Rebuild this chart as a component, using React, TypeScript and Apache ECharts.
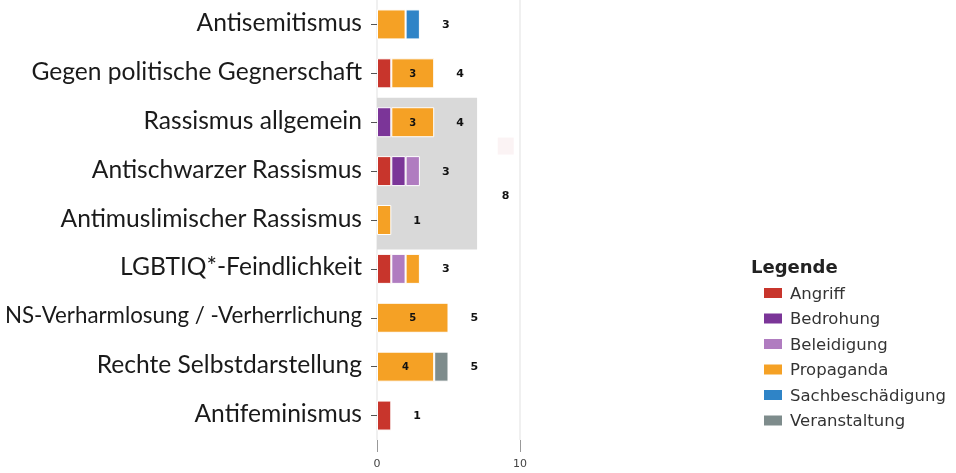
import React, { useEffect, useRef } from "react";
import * as echarts from "echarts";

const categories = [
  "Antisemitismus",
  "Gegen politische Gegnerschaft",
  "Rassismus allgemein",
  "Antischwarzer Rassismus",
  "Antimuslimischer Rassismus",
  "LGBTIQ*-Feindlichkeit",
  "NS-Verharmlosung / -Verherrlichung",
  "Rechte Selbstdarstellung",
  "Antifeminismus",
];
const seriesNames = ["Angriff", "Bedrohung", "Beleidigung", "Propaganda", "Sachbeschädigung", "Veranstaltung"];
const seriesColors = ["#c8352c", "#7b3598", "#b07cc0", "#f5a125", "#2f84c7", "#7e8c8c"];
const angriff = [0, 1, 0, 1, 0, 1, 0, 0, 1];
const bedrohung = [0, 0, 1, 1, 0, 0, 0, 0, 0];
const beleidigung = [0, 0, 0, 1, 0, 1, 0, 0, 0];
const propaganda = [2, 3, 3, 0, 1, 1, 5, 4, 0];
const sachbeschaedigung = [1, 0, 0, 0, 0, 0, 0, 0, 0];
const veranstaltung = [0, 0, 0, 0, 0, 0, 0, 1, 0];
const seriesValues = [angriff, bedrohung, beleidigung, propaganda, sachbeschaedigung, veranstaltung];
// group "Rassismus": categories 2..4, shaded up to 7
const groupStart = 2;
const groupEnd = 4;
const groupShadeMax = 7;
const groupLabelX = 9;
const xTicks = [0, 10];
const longLabel = "NS-Verharmlosung / -Verherrlichung";

export default function App() {
  const ref = useRef<HTMLDivElement>(null);
  useEffect(() => {
    if (!ref.current) return;
    const chart = echarts.init(ref.current, null, { renderer: "svg" });
    const totals = categories.map((_, i) => seriesValues.reduce((s, arr) => s + arr[i], 0));
    let groupTotal = 0;
    for (let i = groupStart; i <= groupEnd; i++) groupTotal += totals[i];

    const barSeries = seriesNames.map((name, k) => ({
      name,
      type: "bar",
      stack: "total",
      barWidth: 30,
      z: 3,
      itemStyle: { color: seriesColors[k], borderColor: "#ffffff", borderWidth: 1 },
      label: {
        show: true,
        position: "inside",
        fontSize: 10,
        fontWeight: "bold",
        fontFamily: "DejaVu Sans",
        color: "#111",
        formatter: (p: any) => (p.value >= 3 ? String(p.value) : ""),
      },
      data: seriesValues[k].map((v) => (v === 0 ? "-" : v)),
    }));

    chart.setOption({
      animation: false,
      grid: { left: 377, width: 143, top: -2, bottom: 33, containLabel: false },
      title: {
        text: "Legende",
        left: 746,
        top: 252,
        textStyle: { fontFamily: "DejaVu Sans", fontWeight: "bold", fontSize: 18, color: "#222" },
      },
      legend: {
        data: seriesNames,
        orient: "vertical",
        left: 757,
        top: 279.5,
        icon: "rect",
        itemWidth: 20,
        itemHeight: 12,
        itemGap: 8.5,
        textStyle: { fontFamily: "DejaVu Sans", fontSize: 16.5, color: "#333", lineHeight: 17, padding: [0, 0, 0, 2] },
      },
      xAxis: {
        type: "value",
        min: xTicks[0],
        max: xTicks[1],
        interval: 10,
        axisLine: { show: false },
        axisTick: { show: true, length: 12, lineStyle: { color: "#999" } },
        axisLabel: { fontSize: 11, color: "#444", margin: 18, fontFamily: "DejaVu Sans" },
        splitLine: { show: true, lineStyle: { color: "#ebebeb", width: 1.5 } },
      },
      yAxis: {
        type: "category",
        data: categories,
        inverse: true,
        axisLine: { show: false },
        axisTick: { show: true, length: 6, alignWithLabel: true, lineStyle: { color: "#555" } },
        axisLabel: {
          fontSize: 24.6,
          fontFamily: "Lato",
          color: "#1a1a1a",
          margin: 15,
          padding: [0, 0, 6, 0],
          formatter: (v: string) => (v === longLabel ? "{s|" + v + "}" : v),
          rich: { s: { fontSize: 22.3, fontFamily: "Lato", color: "#1a1a1a" } },
        },
        splitLine: { show: false },
      },
      series: [
        {
          type: "custom",
          z: 1,
          silent: true,
          renderItem: (params: any, api: any) => {
            const p0 = api.coord([0, groupStart]);
            const p1 = api.coord([groupShadeMax, groupEnd]);
            const band = api.size([0, 1])[1];
            const yTop = p0[1] - band / 2;
            const yBot = p1[1] + band / 2 + 5;
            const pa = api.coord([groupLabelX, groupEnd - 1]);
            const pb = api.coord([groupLabelX, groupEnd]);
            const ly = (pa[1] + pb[1]) / 2;
            return {
              type: "group",
              children: [
                {
                  type: "rect",
                  shape: { x: p0[0], y: yTop, width: p1[0] - p0[0], height: yBot - yTop },
                  style: { fill: "#d9d9d9" },
                },
                {
                  type: "rect",
                  shape: { x: pa[0] - 8, y: ly - 58, width: 16, height: 17 },
                  style: { fill: "#fbf3f4" },
                },
                {
                  type: "text",
                  style: {
                    x: pa[0],
                    y: ly,
                    text: String(groupTotal),
                    fontSize: 11,
                    fontWeight: "bold",
                    fontFamily: "DejaVu Sans",
                    fill: "#111",
                    align: "center",
                    verticalAlign: "middle",
                  },
                },
              ],
            };
          },
          data: [[0]],
        },
        ...barSeries,
        {
          name: "Gesamt",
          type: "bar",
          barWidth: 30,
          barGap: "-100%",
          z: 2,
          itemStyle: { color: "rgba(0,0,0,0)" },
          label: {
            show: true,
            position: "right",
            distance: 22,
            fontSize: 11,
            fontWeight: "bold",
            fontFamily: "DejaVu Sans",
            color: "#111",
          },
          data: totals,
        },
      ],
    });
    return () => chart.dispose();
  }, []);
  return <div ref={ref} style={{ position: "fixed", left: 0, top: 0, width: 956, height: 473 }} />;
}
